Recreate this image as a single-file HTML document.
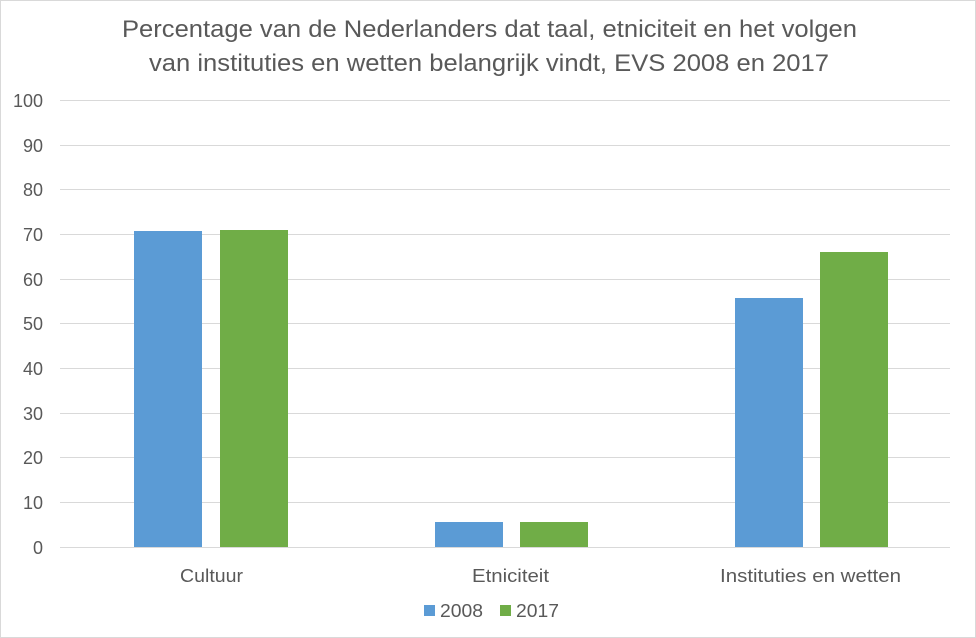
<!DOCTYPE html>
<html><head><style>
body{margin:0;background:#fff}
svg{display:block;font-family:"Liberation Sans",Calibri,sans-serif}
</style></head><body>
<svg width="976" height="638" viewBox="0 0 976 638">
<rect x="0.5" y="0.5" width="975" height="637" fill="#fff" stroke="#d9d9d9"/>
<text x="122" y="37" font-size="24" fill="#595959" textLength="735" lengthAdjust="spacingAndGlyphs">Percentage van de Nederlanders dat taal, etniciteit en het volgen</text>
<text x="149" y="71" font-size="24" fill="#595959" textLength="680" lengthAdjust="spacingAndGlyphs">van instituties en wetten belangrijk vindt, EVS 2008 en 2017</text>
<g stroke="#d9d9d9" stroke-width="1">
<line x1="60" x2="950" y1="100.5" y2="100.5"/><line x1="60" x2="950" y1="145.5" y2="145.5"/>
<line x1="60" x2="950" y1="189.5" y2="189.5"/><line x1="60" x2="950" y1="234.5" y2="234.5"/>
<line x1="60" x2="950" y1="279.5" y2="279.5"/><line x1="60" x2="950" y1="323.5" y2="323.5"/>
<line x1="60" x2="950" y1="368.5" y2="368.5"/><line x1="60" x2="950" y1="413.5" y2="413.5"/>
<line x1="60" x2="950" y1="457.5" y2="457.5"/><line x1="60" x2="950" y1="502.5" y2="502.5"/>
<line x1="60" x2="950" y1="547.5" y2="547.5"/>
</g>
<g font-size="18" fill="#595959" text-anchor="end">
<text x="43" y="107">100</text><text x="43" y="152">90</text><text x="43" y="196">80</text>
<text x="43" y="241">70</text><text x="43" y="286">60</text><text x="43" y="330">50</text>
<text x="43" y="375">40</text><text x="43" y="420">30</text><text x="43" y="464">20</text>
<text x="43" y="509">10</text><text x="43" y="554">0</text>
</g>
<rect x="134" y="231" width="68" height="316" fill="#5b9bd5"/>
<rect x="220" y="230" width="68" height="317" fill="#70ad47"/>
<rect x="435" y="522" width="68" height="25" fill="#5b9bd5"/>
<rect x="520" y="522" width="68" height="25" fill="#70ad47"/>
<rect x="735" y="298" width="68" height="249" fill="#5b9bd5"/>
<rect x="820" y="252" width="68" height="295" fill="#70ad47"/>
<g font-size="18" fill="#595959">
<text x="180" y="582" textLength="63" lengthAdjust="spacingAndGlyphs">Cultuur</text>
<text x="472" y="582" textLength="77" lengthAdjust="spacingAndGlyphs">Etniciteit</text>
<text x="720" y="582" textLength="181" lengthAdjust="spacingAndGlyphs">Instituties en wetten</text>
</g>
<rect x="424" y="605" width="11" height="11" fill="#5b9bd5"/>
<text x="440" y="617" font-size="18" fill="#595959" textLength="43" lengthAdjust="spacingAndGlyphs">2008</text>
<rect x="500" y="605" width="11" height="11" fill="#70ad47"/>
<text x="516" y="617" font-size="18" fill="#595959" textLength="43" lengthAdjust="spacingAndGlyphs">2017</text>
</svg>
</body></html>
